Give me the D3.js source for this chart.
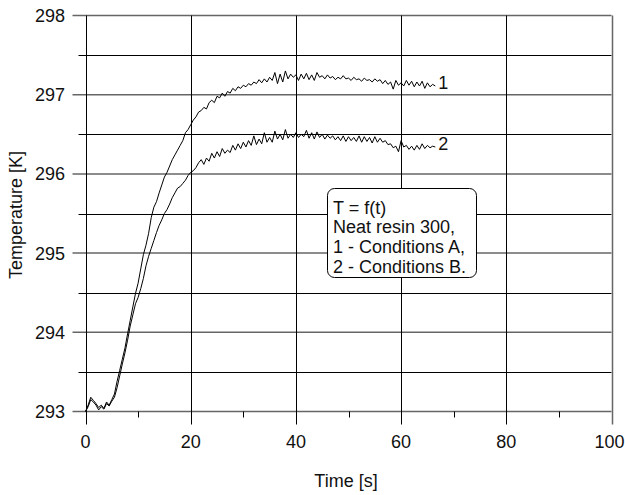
<!DOCTYPE html>
<html>
<head>
<meta charset="utf-8">
<script src="https://cdn.jsdelivr.net/npm/d3@7"></script>
<style>
  body { margin: 0; background: #fff; }
  text { font-family: "Liberation Sans", Arial, sans-serif; font-size: 18px; fill: #111; }
</style>
</head>
<body>
<svg id="chart" width="625" height="495"></svg>
<script>
// time in seconds, 0.5 s sampling
const time = d3.range(0, 67, 0.5)
// curve 1 - conditions A
const tempA = [
  293.00, 293.08, 293.18, 293.14, 293.10, 293.05, 293.08, 293.04, 293.12, 293.08,
  293.15, 293.22, 293.38, 293.52, 293.66, 293.80, 293.98, 294.15, 294.32, 294.49,
  294.62, 294.80, 294.98, 295.10, 295.25, 295.45, 295.58, 295.65, 295.76, 295.86,
  295.96, 296.02, 296.10, 296.18, 296.24, 296.30, 296.36, 296.42, 296.52, 296.56,
  296.62, 296.68, 296.72, 296.78, 296.80, 296.84, 296.82, 296.90, 296.93, 296.90,
  296.98, 296.96, 297.02, 296.98, 297.04, 297.02, 297.08, 297.05, 297.10, 297.08,
  297.12, 297.10, 297.14, 297.12, 297.16, 297.14, 297.19, 297.15, 297.20, 297.16,
  297.22, 297.18, 297.28, 297.14, 297.26, 297.16, 297.30, 297.20, 297.26, 297.22,
  297.25, 297.18, 297.26, 297.20, 297.27, 297.19, 297.25, 297.18, 297.28, 297.22,
  297.24, 297.20, 297.25, 297.21, 297.23, 297.19, 297.22, 297.20, 297.24, 297.20,
  297.21, 297.18, 297.22, 297.19, 297.20, 297.17, 297.21, 297.18, 297.19, 297.16,
  297.20, 297.17, 297.19, 297.14, 297.18, 297.13, 297.16, 297.07, 297.18, 297.12,
  297.15, 297.11, 297.18, 297.12, 297.17, 297.10, 297.16, 297.11, 297.17, 297.08,
  297.15, 297.10, 297.13, 297.11]
// curve 2 - conditions B
const tempB = [
  293.00, 293.06, 293.15, 293.12, 293.08, 293.02, 293.06, 293.03, 293.10, 293.07,
  293.13, 293.18, 293.30, 293.45, 293.60, 293.74, 293.90, 294.08, 294.22, 294.36,
  294.44, 294.55, 294.68, 294.84, 294.96, 295.06, 295.16, 295.26, 295.35, 295.42,
  295.50, 295.55, 295.62, 295.70, 295.76, 295.82, 295.84, 295.88, 295.92, 295.98,
  296.02, 296.04, 296.08, 296.14, 296.18, 296.12, 296.20, 296.16, 296.26, 296.20,
  296.28, 296.22, 296.32, 296.26, 296.30, 296.27, 296.36, 296.30, 296.38, 296.32,
  296.40, 296.34, 296.42, 296.36, 296.48, 296.37, 296.44, 296.38, 296.52, 296.40,
  296.46, 296.40, 296.54, 296.44, 296.50, 296.43, 296.56, 296.45, 296.50, 296.46,
  296.52, 296.46, 296.50, 296.47, 296.55, 296.45, 296.52, 296.44, 296.53, 296.46,
  296.50, 296.44, 296.49, 296.45, 296.48, 296.43, 296.47, 296.42, 296.48, 296.41,
  296.47, 296.42, 296.46, 296.41, 296.48, 296.40, 296.47, 296.41, 296.46, 296.39,
  296.47, 296.40, 296.45, 296.40, 296.42, 296.37, 296.38, 296.33, 296.35, 296.28,
  296.42, 296.34, 296.36, 296.31, 296.35, 296.30, 296.36, 296.31, 296.38, 296.32,
  296.36, 296.33, 296.35, 296.34]
const curveLabels = ["1", "2"]
const xTicks = [0, 20, 40, 60, 80, 100]
const xMinor = [10, 30, 50, 70, 90]
const yTicks = [293, 294, 295, 296, 297, 298]
const yMinor = [293.5, 294.5, 295.5, 296.5, 297.5]
const noteLines = ["T = f(t)", "Neat resin 300,", "1 - Conditions A,", "2 - Conditions B."]

const svg = d3.select("#chart")
const x = d3.scaleLinear().domain([0, 100]).range([85.5, 611.5])
const y = d3.scaleLinear().domain([293, 298]).range([411.5, 15.5])
const x0 = x(0), x1 = x(100), y0 = y(293), y1 = y(298)

// horizontal grid + y ticks
svg.append("g").selectAll("line").data(yMinor).join("line")
  .attr("x1", x0 - 7).attr("x2", x1)
  .attr("y1", d => Math.round(y(d)) + 0.5).attr("y2", d => Math.round(y(d)) + 0.5)
  .attr("stroke", "#000").attr("stroke-width", 1)
svg.append("g").selectAll("line").data(yTicks).join("line")
  .attr("x1", x0 - 13).attr("x2", x1)
  .attr("y1", d => y(d)).attr("y2", d => y(d))
  .attr("stroke", "#666").attr("stroke-width", 1.5)

// vertical grid + x ticks
svg.append("g").selectAll("line").data(xMinor).join("line")
  .attr("x1", d => Math.round(x(d)) + 0.5).attr("x2", d => Math.round(x(d)) + 0.5)
  .attr("y1", y0).attr("y2", y0 + 6)
  .attr("stroke", "#000")
svg.append("g").selectAll("line").data(xTicks).join("line")
  .attr("x1", d => Math.round(x(d)) + 0.5).attr("x2", d => Math.round(x(d)) + 0.5)
  .attr("y1", y1).attr("y2", y0 + 13)
  .attr("stroke", d => d === 100 ? "#666" : "#000").attr("stroke-width", d => d === 100 ? 1.5 : 1)

// tick labels
svg.append("g").selectAll("text").data(xTicks).join("text")
  .attr("x", d => d === 100 ? x(d) - 2 : x(d)).attr("y", 448)
  .attr("text-anchor", "middle")
  .text(d => d)
svg.append("g").selectAll("text").data(yTicks).join("text")
  .attr("x", 65).attr("y", d => y(d) + 6.5)
  .attr("text-anchor", "end")
  .text(d => d)

// axis titles
svg.append("text").attr("x", 346).attr("y", 487).attr("text-anchor", "middle").text("Time [s]")
svg.append("text").attr("transform", "translate(22,215) rotate(-90)")
  .attr("text-anchor", "middle").text("Temperature [K]")

// curves
const line = d3.line().x((d, i) => x(time[i])).y(d => y(d))
const series = [tempA, tempB]
series.forEach((s, k) => {
  svg.append("path").datum(s)
    .attr("d", line)
    .attr("fill", "none").attr("stroke", "#000").attr("stroke-width", 1)
  svg.append("text")
    .attr("x", x(time[time.length - 1]) + 3)
    .attr("y", y(s[s.length - 1]) + 3)
    .text(curveLabels[k])
})

// note box
const note = svg.append("g")
note.append("rect")
  .attr("x", 327.5).attr("y", 188.5).attr("width", 149).attr("height", 89)
  .attr("rx", 7).attr("fill", "#fff").attr("stroke", "#000").attr("stroke-width", 1)
note.selectAll("text").data(noteLines).join("text")
  .attr("x", 333).attr("y", (d, i) => 213.5 + i * 19.8)
  .text(d => d)
</script>
</body>
</html>
